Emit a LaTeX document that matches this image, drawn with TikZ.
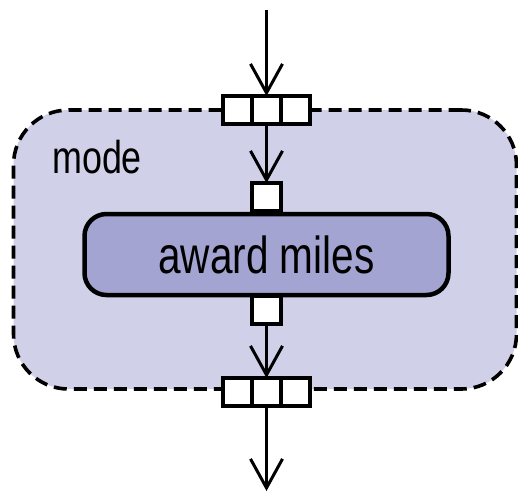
\documentclass[tikz,border=0pt]{standalone}
\usepackage{fontspec}
\setmainfont{Liberation Sans}
\newfontfamily\narrowsans[FakeStretch=0.78]{Liberation Sans}
\usetikzlibrary{arrows.meta, positioning}
\definecolor{modefill}{RGB}{208,208,232}
\definecolor{actfill}{RGB}{164,164,210}
\tikzset{
  modebox/.style={rectangle, draw=black, fill=modefill, dash pattern=on 13pt off 7pt,
    line width=3.6pt, rounded corners=55pt, inner sep=0pt},
  action/.style={rectangle, draw=black, fill=actfill, line width=4.5pt,
    rounded corners=22pt, minimum width=364pt, minimum height=81pt,
    font=\narrowsans\fontsize{52}{60}\selectfont},
  pincell/.style={rectangle, draw=black, fill=white, line width=3.4pt,
    minimum width=29pt, minimum height=28pt, inner sep=0pt, outer sep=0pt},
  flow/.style={-{Straight Barb[length=29pt, width=32pt, line width=3pt]}, line width=3pt}
}
\begin{document}
\begin{tikzpicture}[x=1pt, y=-1pt]
  \useasboundingbox (0,0) rectangle (518,493);

  % Region
  \node[modebox, minimum width=503pt, minimum height=279pt] (mode) at (265,249.5) {};
  \node[font=\narrowsans\fontsize{46}{52}\selectfont, anchor=base west, inner sep=0pt]
    (modelabel) at (52,173) {mode};

  % Input pin (region)
  \node[pincell] (inB) at (266.5,110) {};
  \node[pincell, left=0pt of inB] (inA) {};
  \node[pincell, right=0pt of inB] (inC) {};

  % Action and its pins
  \node[pincell] (apin) at (266.5,197) {};
  \node[pincell] (apout) at (266.5,310) {};
  \node[action] (act) at (266.5,254.5) {award miles};

  % Output pin (region)
  \node[pincell] (outB) at (266.5,392) {};
  \node[pincell, left=0pt of outB] (outA) {};
  \node[pincell, right=0pt of outB] (outC) {};

  \coordinate (src) at (266.5,10);
  \coordinate (snk) at (266.5,491);

  % Flows
  \draw[flow] (src) -- (inB);
  \draw[flow] (inB) -- (apin);
  \draw[flow] (apout) -- (outB);
  \draw[flow] (outB) -- (snk);
\end{tikzpicture}
\end{document}
